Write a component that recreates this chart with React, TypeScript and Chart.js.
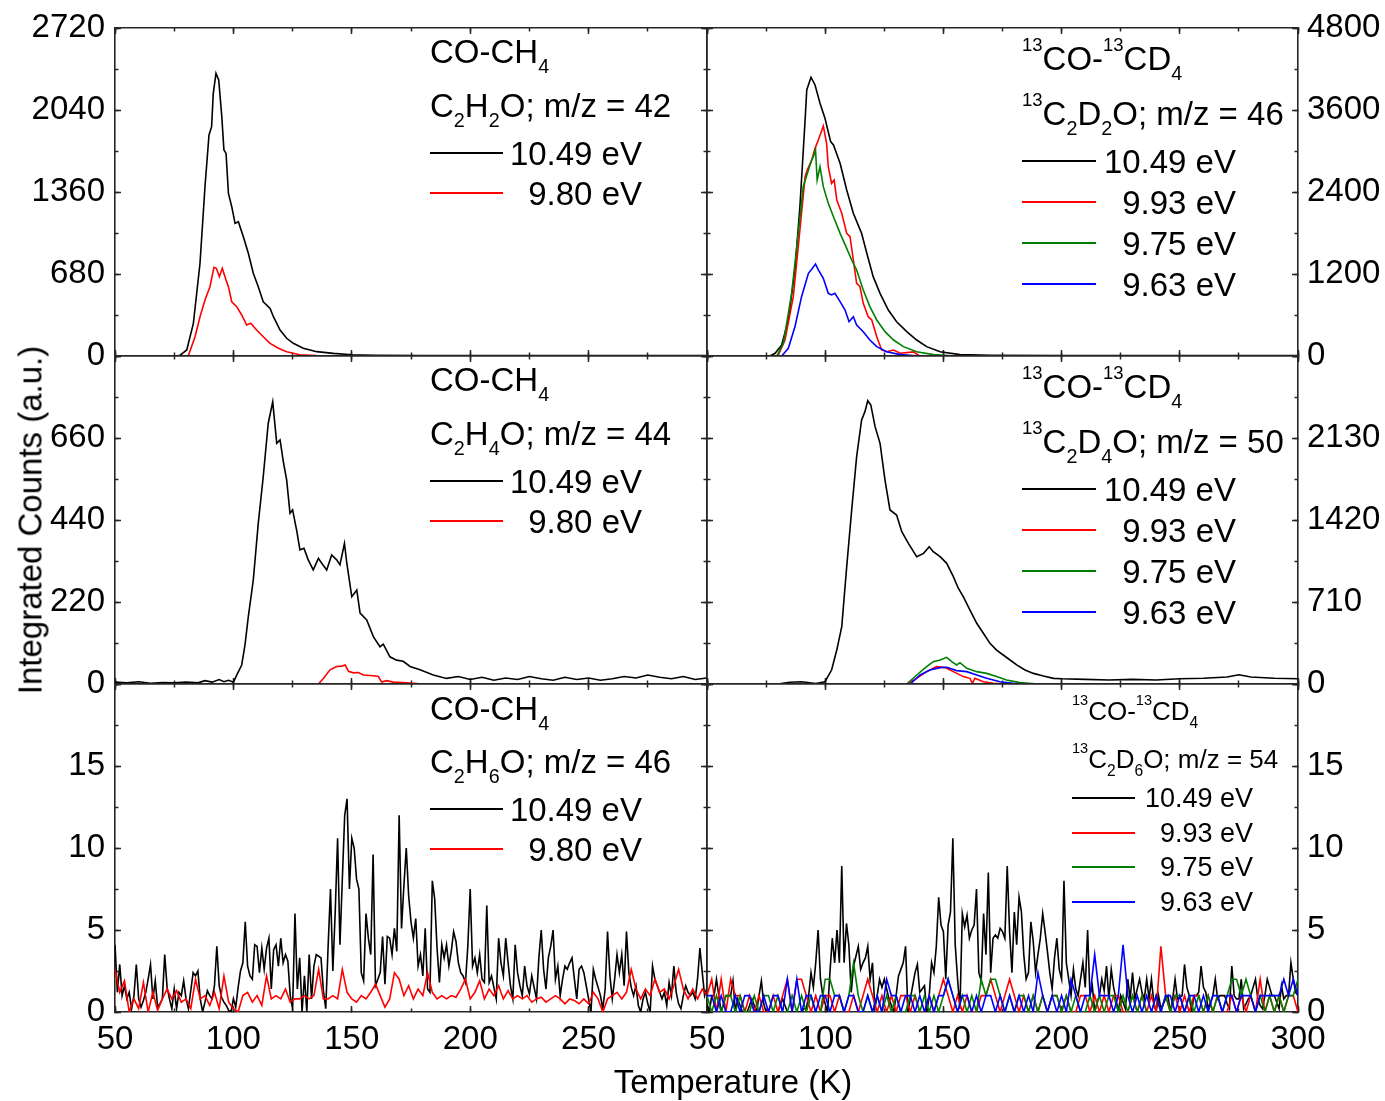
import React, { useEffect, useRef } from 'react';
import { Chart, registerables } from 'chart.js';

Chart.register(...registerables);

const FONT = 'Arial, "Liberation Sans", Helvetica, sans-serif';
const W = 1385;
const H = 1101;
const LINE = '#262626';
const BLACK = '#000000';
const RED = '#ff0000';
const GREEN = '#008000';
const BLUE = '#0000ff';

// ---------- tick definitions ----------
const X_MIN = 50;
const X_MAX = 300;
const X_MAJOR = 50;
const X_MINOR = 25;

// ---------- temperature sampling grids of the noisy (bottom) panels ----------
const T_GRID_1K = Array.from({ length: 251 }, (_, i) => 50 + i);
const T_GRID_2K = Array.from({ length: 126 }, (_, i) => 50 + 2 * i);

// ---------- top-left: CO-CH4, C2H2O m/z 42 ----------
const TL_T_BLACK = [50, 60, 70, 76, 77.4, 80.3, 83.1, 85.9, 88, 89.7, 90.8, 91.5, 92.65, 93.8, 95.1, 96, 96.9, 97.9, 99.3, 100.7, 102.1, 104.2, 106.3, 108.4, 110.5, 112.6, 115.5, 116.9, 119.7, 122.5, 125.3, 129.5, 135.2, 142.2, 150, 160, 180, 200, 250, 300];
const TL_V_BLACK = [0, 0, 0, 0, 5, 50, 271, 769, 1404, 1833, 1902, 2178, 2344, 2289, 1985, 1708, 1680, 1349, 1238, 1100, 1114, 989, 852, 686, 575, 450, 395, 326, 215, 147, 105, 64, 36, 22, 10, 6, 4, 3, 3, 3];
const TL_T_RED = [50, 80, 81, 83.8, 85.9, 88, 90.1, 91.8, 92.8, 94.1, 95.3, 96.9, 97.9, 99.3, 101.4, 103.5, 105.6, 107.3, 109.8, 112.6, 115.5, 119, 122.5, 128, 135, 150, 300];
const TL_V_RED = [0, 0, 5, 160, 326, 464, 575, 735, 727, 658, 727, 630, 575, 450, 409, 340, 257, 271, 215, 160, 105, 64, 36, 10, 3, 0, 0];

// ---------- top-right: 13CO-13CD4, 13C2D2O m/z 46 ----------
const TR_T_BLACK = [50, 76.6, 78.8, 81.6, 84.4, 87.2, 89.3, 91.5, 92.2, 94, 95.7, 97.8, 99.9, 102.3, 103.5, 106.3, 109.1, 111.9, 115.4, 117.6, 120.3, 123.2, 126.7, 130.2, 134.5, 138.7, 142.9, 148.6, 157, 170, 200, 300];
const TR_V_BLACK = [0, 0, 39, 161, 527, 1259, 2185, 3454, 3893, 4078, 3966, 3698, 3478, 3137, 3088, 2820, 2429, 2088, 1795, 1503, 1161, 917, 673, 502, 356, 234, 137, 63, 20, 10, 5, 5];
const TR_T_RED = [50, 80, 83, 86.5, 89.3, 91.5, 92.4, 94.3, 95.7, 97.1, 99.2, 100.6, 101.3, 102.7, 103.8, 104.9, 107, 109.1, 110.5, 111.9, 113.3, 114.7, 116.1, 118.2, 119.7, 121.8, 123.9, 126, 128.9, 131.7, 137.3, 140, 300];
const TR_V_RED = [0, 0, 234, 868, 1844, 2624, 2722, 2868, 3039, 3161, 3366, 3112, 2770, 2527, 2576, 2283, 2088, 1795, 1746, 1405, 1064, 1015, 771, 575, 527, 283, 88, 63, 88, 40, 60, 0, 0];
const TR_T_GREEN = [50, 79.5, 82.3, 85.8, 88.6, 90.7, 92.9, 94.3, 95, 95.9, 96.6, 97.8, 99.2, 101.3, 103.5, 106.3, 109.1, 111.2, 113.3, 116.1, 118.9, 121.8, 125.3, 128.9, 133.1, 138.7, 145.8, 155, 300];
const TR_V_GREEN = [0, 0, 186, 917, 1795, 2478, 2722, 2868, 2917, 3015, 2576, 2770, 2478, 2234, 2039, 1795, 1576, 1405, 1259, 966, 722, 527, 356, 234, 137, 63, 20, 0, 0];
const TR_T_BLUE = [50, 81.6, 84.4, 87.2, 90, 92.9, 94.6, 95.9, 97.1, 99.2, 101.3, 102.7, 104.1, 106.3, 108.4, 110.1, 111.9, 113.3, 116.1, 118.9, 121.8, 126, 131.7, 140, 300];
const TR_V_BLUE = [0, 0, 112, 429, 868, 1210, 1283, 1346, 1259, 1137, 917, 893, 917, 795, 673, 502, 575, 454, 356, 234, 137, 63, 20, 0, 0];

// ---------- middle-left: CO-CH4, C2H4O m/z 44 ----------
const ML_T_BLACK = [50, 55, 60, 65, 70, 75, 80, 85, 88, 91, 94, 96, 98, 100, 101.4, 103.5, 104.9, 106.3, 108.4, 110.5, 112.6, 114.7, 116.6, 118.3, 119.7, 121.1, 122.5, 123.9, 125, 126.7, 128.1, 129.8, 131.6, 133.7, 135.9, 137.3, 139.4, 141.5, 143.6, 145, 146.9, 147.9, 150, 152.1, 153.5, 156.3, 159.1, 161.9, 163.3, 166.1, 168.9, 171.7, 174.6, 178.8, 184.4, 190, 195, 200, 205, 210, 215, 220, 225, 230, 235, 240, 245, 250, 255, 260, 265, 270, 275, 280, 285, 290, 295, 300];
const ML_V_BLACK = [5, 3, 6, 2, 4, 3, 5, 3, 9, 5, 12, 6, 10, 5, 24, 51, 105, 181, 279, 431, 556, 699, 757, 646, 655, 596, 547, 458, 467, 413, 360, 364, 333, 306, 337, 324, 306, 346, 333, 320, 377, 324, 234, 252, 190, 172, 127, 100, 107, 73, 64, 61, 47, 38, 24, 15, 20, 12, 18, 10, 16, 12, 20, 14, 10, 18, 12, 16, 10, 14, 20, 16, 24, 18, 14, 20, 12, 16];
const ML_T_RED = [50, 135.9, 138, 140.8, 143.6, 145.8, 147.2, 148.6, 150.7, 152.8, 154.9, 159.1, 161.2, 162.6, 164.7, 167.5, 173.2, 180, 300];
const ML_V_RED = [0, 0, 15, 38, 47, 48, 51, 34, 30, 31, 24, 22, 20, 5, 9, 5, 3, 0, 0];

// ---------- middle-right: 13CO-13CD4, 13C2D4O m/z 50 ----------
const MR_T_BLACK = [50, 80, 85, 90, 96, 99.9, 102.7, 104.9, 107, 109.1, 111.2, 113.3, 115.4, 116.8, 118, 119.3, 121.1, 123.2, 125.3, 127.4, 130.2, 132.4, 135.2, 138.7, 141.6, 144, 145.7, 148.6, 151.4, 154.2, 156.3, 158.4, 161.2, 164.1, 166.9, 169.7, 172.5, 175.3, 178.2, 181, 184.5, 188.1, 192.3, 196.6, 200, 210, 220, 230, 240, 250, 260, 270, 275, 280, 290, 300];
const MR_V_BLACK = [0, 0, 15, 20, 5, 20, 121, 294, 496, 1016, 1507, 1968, 2286, 2358, 2453, 2416, 2228, 2084, 1766, 1507, 1463, 1319, 1218, 1102, 1131, 1189, 1146, 1102, 1045, 929, 829, 756, 641, 526, 439, 352, 294, 251, 208, 165, 121, 92, 69, 49, 45, 40, 35, 40, 35, 45, 50, 60, 80, 60, 50, 45];
const MR_T_RED = [50, 134.5, 138.7, 142.9, 147.1, 150.7, 154.2, 158.4, 161.2, 162.3, 163.3, 166.9, 171.1, 178, 300];
const MR_V_RED = [0, 0, 49, 107, 150, 142, 107, 64, 49, 6, 49, 20, 6, 0, 0];
const MR_T_GREEN = [50, 134.5, 138.7, 142.9, 145.7, 148.6, 151.4, 153.5, 155.6, 157, 159.9, 164.1, 168.3, 172.5, 176.7, 182.4, 190, 300];
const MR_V_GREEN = [0, 0, 78, 150, 193, 208, 231, 193, 165, 185, 136, 107, 92, 64, 35, 12, 0, 0];
const MR_T_BLUE = [50, 136, 140.1, 144.3, 148.6, 151.4, 155.6, 159.9, 164.1, 168.3, 173.9, 179.5, 186, 300];
const MR_V_BLUE = [0, 0, 78, 121, 142, 145, 116, 107, 78, 49, 20, 6, 0, 0];

// ---------- bottom-left: CO-CH4, C2H6O m/z 46 (1 K and 2 K grids) ----------
const BL_V_BLACK = [
  4.1, 1.2, 2.9, 1.0, 1.6, 0.8, 1.2, 0.2, 1.0, 2.9,
  0.8, 0.3, 0.7, 1.2, 2.0, 2.9, 0.8, 1.9, 0.3, 0.5,
  0.8, 3.5, 1.5, 0.8, 0.2, 1.4, 0.2, 1.2, 1.0, 1.9,
  0.8, 0.2, 1.3, 2.4, 2.2, 2.5, 0.8, 0, 0.6, 1.3,
  1.0, 0.8, 1.6, 4.0, 1.6, 0.9, 0.6, 0.4, 0.1, 0,
  0.8, 0.3, 1.5, 2.5, 3.0, 5.5, 2.8, 2.2, 2.0, 4.1,
  4.0, 2.4, 3.9, 2.6, 3.9, 4.5, 1.4, 3.8, 4.1, 2.8,
  4.5, 3.0, 3.5, 3.1, 1.0, 0.2, 6.0, 1.4, 3.3, 0,
  2.2, 0, 3.5, 0.8, 2.8, 3.5, 3.4, 3.3, 1.3, 0.2,
  4.0, 7.5, 2.5, 6.1, 10.6, 4.1, 8.1, 12.0, 13.0, 7.5,
  10.6, 10.0, 8.1, 7.5, 2.4, 1.9, 6.0, 4.5, 3.5, 9.6,
  1.6, 2.0, 2.4, 4.6, 1.7, 4.6, 4.5, 3.5, 5.1, 3.7,
  12.0, 5.1, 7.7, 10.0, 7.1, 5.5, 4.5, 5.7, 2.8, 3.5,
  2.2, 5.1, 1.4, 1.2, 8.0, 6.9, 3.9, 1.8, 4.1, 3.3,
  4.1, 2.8, 3.7, 4.9, 4.3, 3.0, 2.4, 2.2, 1.8, 4.0,
  7.5, 2.8, 3.3, 2.4, 3.5, 2.0, 1.8, 6.5, 1.8, 2.2,
  1.5, 0.8, 4.5, 3.0, 2.2, 4.5, 3.0, 1.6, 0.8, 4.1,
  2.4, 1.6, 1.0, 2.8, 1.6, 1.1, 2.2, 1.5, 0.8, 3.3,
  5.0, 2.6, 1.4, 3.3, 4.0, 5.0, 2.0, 2.8, 1.0, 2.0,
  2.8, 2.6, 3.0, 3.3, 2.0, 0.8, 2.6, 2.8, 2.4, 1.6,
  0.8, 0, 2.6, 2.0, 1.5, 1.0, 0.2, 1.4, 4.9, 2.2,
  0.8, 2.0, 3.5, 2.4, 3.5, 1.6, 4.9, 2.4, 1.5, 1.0,
  1.6, 0.4, 0, 0.8, 1.2, 0.5, 0, 2.8, 2.0, 1.6,
  1.2, 0.8, 1.2, 0.4, 1.8, 1.0, 2.8, 1.2, 0.5, 0.2,
  1.0, 1.6, 1.2, 1.0, 1.2, 0.8, 2.0, 3.9, 2.4, 1.0,
  1.5,
];
const BL_V_RED = [
  2.6, 1.2, 1.9, 0, 0.8, 0.2, 1.8, 0, 1.2, 0.1,
  0.8, 1.4, 0.8, 1.3, 0.6, 0.8, 0.2, 2.0, 0.8, 1.0,
  0.4, 1.2, 0.2, 2.2, 0.6, 0.2, 0, 1.0, 1.2, 0.6,
  1.0, 0.4, 2.2, 0.8, 1.0, 0.8, 1.4, 0.6, 0.8, 0.8,
  1.0, 0.8, 1.0, 2.6, 0.8, 0.8, 1.0, 0.8, 2.6, 1.2,
  0.8, 0.6, 1.0, 0.8, 1.2, 1.7, 1.0, 0.3, 0.8, 2.4,
  2.0, 1.0, 1.6, 0.8, 1.4, 1.0, 2.4, 1.2, 0.8, 1.0,
  0.8, 1.0, 0.9, 1.4, 2.0, 0.8, 1.2, 1.9, 0.8, 1.4,
  1.0, 1.6, 0.8, 1.3, 0.8, 1.0, 0.8, 1.0, 0.6, 0.8,
  0.9, 0.6, 0.8, 1.0, 0.8, 0.5, 0.8, 0.7, 0.5, 0.8,
  0.5, 1.2, 0.8, 0, 0.8, 1.0, 1.2, 0.8, 1.2, 2.6,
  1.4, 0.8, 1.4, 1.0, 2.0, 1.2, 1.4, 0.8, 1.6, 2.6,
  1.4, 0.8, 1.4, 0.8, 1.4, 1.0,
];

// ---------- bottom-right: 13CO-13CD4, 13C2D6O m/z 54 ----------
const BR_V_BLACK = [
  0.5, 0, 1.0, 1.0, 2.0, 1.0, 0, 0.5, 1.0, 1.0,
  1.0, 1.9, 0, 0.8, 0.4, 0, 0, 0, 0.4, 0.8,
  0.4, 0, 1.0, 1.9, 0.5, 0, 0, 0, 0, 0,
  0, 0.4, 0.8, 0.4, 0, 0, 0, 0, 0, 0,
  0, 0.2, 0.2, 1.0, 2.4, 1.5, 3.0, 5.0, 2.0, 1.0,
  0.5, 0, 2.4, 4.5, 3.0, 5.0, 3.0, 8.9, 3.0, 5.4,
  4.1, 1.2, 2.8, 3.4, 4.0, 2.6, 3.0, 3.3, 4.0, 2.0,
  3.0, 0.2, 1.0, 2.0, 1.5, 2.0, 1.4, 0.8, 0.4, 0,
  1.0, 2.2, 2.6, 3.0, 4.0, 0, 0.8, 1.6, 2.4, 2.9,
  1.2, 1.4, 1.6, 0, 1.0, 3.0, 2.4, 4.0, 7.0, 5.3,
  4.9, 2.0, 5.3, 6.1, 10.6, 4.1, 2.0, 0.2, 6.0, 5.2,
  5.9, 4.5, 5.0, 5.3, 7.5, 2.4, 1.9, 6.0, 3.5, 8.5,
  2.4, 4.5, 4.7, 4.5, 5.1, 4.9, 4.5, 8.9, 4.9, 2.4,
  6.1, 4.1, 7.0, 6.1, 3.5, 2.0, 2.4, 5.5, 4.3, 2.4,
  3.5, 4.5, 6.0, 4.9, 3.7, 2.4, 1.4, 3.3, 4.5, 2.6,
  2.0, 8.0, 3.0, 2.0, 1.0, 2.6, 1.4, 1.0, 2.0, 3.0,
  1.5, 5.0, 1.0, 1.6, 0, 0.6, 1.0, 2.0, 1.3, 2.8,
  0.8, 2.6, 1.5, 0.8, 0, 1.0, 0.6, 0.2, 2.0, 0.8,
  2.4, 0.8, 1.4, 2.0, 1.2, 0.8, 2.0, 0.8, 2.0, 0.6,
  0, 1.0, 0.2, 0.5, 0.8, 1.0, 0, 0.8, 2.0, 0.8,
  0.9, 1.0, 2.9, 1.5, 1.0, 0, 1.0, 1.0, 1.2, 2.8,
  1.5, 1.2, 0.2, 0.6, 1.0, 2.0, 0.8, 1.0, 1.0, 1.0,
  0.5, 0.2, 2.8, 1.0, 0.8, 0.8, 2.0, 0.2, 0.5, 0.8,
  1.0, 1.5, 2.0, 0.8, 0.4, 0.2, 1.0, 2.0, 1.5, 1.0,
  1.0, 0.6, 0.2, 1.6, 0.8, 1.0, 1.0, 3.0, 2.0, 1.2,
  1.0,
];
const BR_V_RED = [
  1, 2, 0, 2, 0, 2, 1, 1, 0, 1,
  0, 1, 0, 0, 1, 0, 1, 2, 0, 2,
  2, 1, 0, 1, 0, 1, 1, 0, 1, 0,
  0, 1, 0, 1, 2, 1, 0, 1, 0, 1,
  0, 1, 1, 0, 1, 0, 0, 1, 0, 1,
  2, 1, 0, 1, 0, 1, 0, 0, 1, 1,
  2, 1, 0, 1, 2, 1, 0, 1, 0, 1,
  0, 1, 0, 1, 1, 0, 1, 0, 0, 1,
  1, 0, 1, 0, 1, 0, 1, 1, 0, 0,
  1, 0, 1, 0, 1, 0, 4, 1, 0, 1,
  0, 1, 0, 1, 1, 0, 1, 0, 1, 0,
  0, 1, 0, 1, 0, 1, 0, 2, 0, 1,
  0, 1, 0, 1, 1, 0,
];
const BR_V_GREEN = [
  1, 0, 1, 0, 1, 1, 0, 1, 0, 0,
  1, 0, 1, 1, 0, 1, 0, 0, 1, 0,
  1, 0, 1, 0, 0, 2, 2, 1, 1, 0,
  1, 3, 1, 0, 1, 0, 1, 0, 1, 0,
  1, 0, 0, 1, 1, 0, 1, 0, 1, 0,
  1, 2, 1, 0, 1, 0, 1, 0, 2, 1,
  2, 2, 1, 0, 1, 0, 1, 1, 0, 1,
  0, 1, 0, 1, 1, 0, 1, 0, 1, 0,
  0, 1, 0, 1, 0, 1, 1, 0, 1, 0,
  1, 0, 1, 0, 0, 1, 0, 1, 0, 1,
  1, 0, 1, 0, 1, 0, 1, 0, 1, 0,
  1, 2, 2, 1, 2, 1, 0, 1, 0, 1,
  0, 1, 0, 1, 1, 2,
];
const BR_V_BLUE = [
  1, 1, 0, 1, 0, 0, 1, 0, 1, 1,
  0, 0, 1, 0, 1, 1, 0, 2, 0, 2,
  0, 1, 1, 0, 1, 1, 0, 1, 1, 0,
  1, 1, 0, 0, 1, 0, 1, 0, 2, 1,
  1, 0, 1, 1, 0, 1, 0, 1, 0, 1,
  1, 2, 1, 0, 1, 1, 0, 1, 0, 1,
  1, 0, 1, 0, 1, 0, 1, 0, 1, 0,
  2.4, 1, 0, 1, 0, 1, 0, 2, 1, 0,
  1, 1, 3.5, 1, 1, 1, 0, 1, 4.1, 1,
  0, 1, 0, 1, 0, 1, 0, 1, 1, 0,
  1, 0, 1, 1, 0, 1, 0, 1, 1, 0,
  1, 1, 0, 1, 1, 1, 0, 1, 1, 1,
  1, 1, 2, 1, 2, 1,
];

// ---------- legend labels ----------
const LEFT_LABELS = ['10.49 eV', '9.80 eV'];
const RIGHT_LABELS = ['10.49 eV', '9.93 eV', '9.75 eV', '9.63 eV'];

// ---------- layout ----------
const COLS = [{ left: 115, right: 707 }, { left: 707, right: 1298 }];
const ROWS = [{ top: 28, bottom: 356 }, { top: 356, bottom: 684 }, { top: 684, bottom: 1012 }];

type Seg = [string, number]; // 0 normal, 1 subscript, 2 superscript
type Series = { label: string; color: string; t: number[]; v: number[] };
type Panel = {
  row: number; col: number; yMax: number; yStep: number; yMinor: number; showTop: boolean;
  series: Series[];
  title1: Seg[]; title2: Seg[]; tx: number; ty1: number; ty2: number; tsize: number;
  lx1: number; lx2: number; lr: number; ly: number[]; lsize: number;
};

const PANELS: Panel[] = [
  {
    row: 0, col: 0, yMax: 2720, yStep: 680, yMinor: 340, showTop: true,
    series: [
      { label: LEFT_LABELS[0], color: BLACK, t: TL_T_BLACK, v: TL_V_BLACK },
      { label: LEFT_LABELS[1], color: RED, t: TL_T_RED, v: TL_V_RED },
    ],
    title1: [['CO-CH', 0], ['4', 1]],
    title2: [['C', 0], ['2', 1], ['H', 0], ['2', 1], ['O; m/z = 42', 0]],
    tx: 430, ty1: 51, ty2: 105, tsize: 33, lx1: 430, lx2: 503, lr: 642, ly: [153, 193], lsize: 33,
  },
  {
    row: 0, col: 1, yMax: 4800, yStep: 1200, yMinor: 600, showTop: true,
    series: [
      { label: RIGHT_LABELS[0], color: BLACK, t: TR_T_BLACK, v: TR_V_BLACK },
      { label: RIGHT_LABELS[1], color: RED, t: TR_T_RED, v: TR_V_RED },
      { label: RIGHT_LABELS[2], color: GREEN, t: TR_T_GREEN, v: TR_V_GREEN },
      { label: RIGHT_LABELS[3], color: BLUE, t: TR_T_BLUE, v: TR_V_BLUE },
    ],
    title1: [['13', 2], ['CO-', 0], ['13', 2], ['CD', 0], ['4', 1]],
    title2: [['13', 2], ['C', 0], ['2', 1], ['D', 0], ['2', 1], ['O; m/z = 46', 0]],
    tx: 1022, ty1: 58, ty2: 113, tsize: 33, lx1: 1022, lx2: 1096, lr: 1236, ly: [161, 202, 243, 284], lsize: 33,
  },
  {
    row: 1, col: 0, yMax: 880, yStep: 220, yMinor: 110, showTop: false,
    series: [
      { label: LEFT_LABELS[0], color: BLACK, t: ML_T_BLACK, v: ML_V_BLACK },
      { label: LEFT_LABELS[1], color: RED, t: ML_T_RED, v: ML_V_RED },
    ],
    title1: [['CO-CH', 0], ['4', 1]],
    title2: [['C', 0], ['2', 1], ['H', 0], ['4', 1], ['O; m/z = 44', 0]],
    tx: 430, ty1: 379, ty2: 433, tsize: 33, lx1: 430, lx2: 503, lr: 642, ly: [481, 521], lsize: 33,
  },
  {
    row: 1, col: 1, yMax: 2840, yStep: 710, yMinor: 355, showTop: false,
    series: [
      { label: RIGHT_LABELS[0], color: BLACK, t: MR_T_BLACK, v: MR_V_BLACK },
      { label: RIGHT_LABELS[1], color: RED, t: MR_T_RED, v: MR_V_RED },
      { label: RIGHT_LABELS[2], color: GREEN, t: MR_T_GREEN, v: MR_V_GREEN },
      { label: RIGHT_LABELS[3], color: BLUE, t: MR_T_BLUE, v: MR_V_BLUE },
    ],
    title1: [['13', 2], ['CO-', 0], ['13', 2], ['CD', 0], ['4', 1]],
    title2: [['13', 2], ['C', 0], ['2', 1], ['D', 0], ['4', 1], ['O; m/z = 50', 0]],
    tx: 1022, ty1: 386, ty2: 441, tsize: 33, lx1: 1022, lx2: 1096, lr: 1236, ly: [489, 530, 571, 612], lsize: 33,
  },
  {
    row: 2, col: 0, yMax: 20, yStep: 5, yMinor: 2.5, showTop: false,
    series: [
      { label: LEFT_LABELS[0], color: BLACK, t: T_GRID_1K, v: BL_V_BLACK },
      { label: LEFT_LABELS[1], color: RED, t: T_GRID_2K, v: BL_V_RED },
    ],
    title1: [['CO-CH', 0], ['4', 1]],
    title2: [['C', 0], ['2', 1], ['H', 0], ['6', 1], ['O; m/z = 46', 0]],
    tx: 430, ty1: 708, ty2: 761, tsize: 33, lx1: 430, lx2: 503, lr: 642, ly: [809, 849], lsize: 33,
  },
  {
    row: 2, col: 1, yMax: 20, yStep: 5, yMinor: 2.5, showTop: false,
    series: [
      { label: RIGHT_LABELS[0], color: BLACK, t: T_GRID_1K, v: BR_V_BLACK },
      { label: RIGHT_LABELS[1], color: RED, t: T_GRID_2K, v: BR_V_RED },
      { label: RIGHT_LABELS[2], color: GREEN, t: T_GRID_2K, v: BR_V_GREEN },
      { label: RIGHT_LABELS[3], color: BLUE, t: T_GRID_2K, v: BR_V_BLUE },
    ],
    title1: [['13', 2], ['CO-', 0], ['13', 2], ['CD', 0], ['4', 1]],
    title2: [['13', 2], ['C', 0], ['2', 1], ['D', 0], ['6', 1], ['O; m/z = 54', 0]],
    tx: 1072, ty1: 711, ty2: 759, tsize: 26, lx1: 1072, lx2: 1135, lr: 1253, ly: [798, 833, 867, 902], lsize: 27,
  },
];

function geom(p: Panel) {
  const col = COLS[p.col];
  const row = ROWS[p.row];
  const left = p.col === 0 ? 0 : 680;
  const w = p.col === 0 ? 740 : W - 680;
  const top = row.top - 20;
  const isBottom = p.row === 2;
  const h = row.bottom - top + (isBottom ? 70 : 20);
  return {
    left, top, w, h,
    leftAxisW: p.col === 0 ? col.left - left : 0,
    rightAxisW: p.col === 1 ? left + w - col.right : 0,
    bottomAxisH: isBottom ? 70 : 0,
    padding: {
      left: p.col === 0 ? 0 : col.left - left,
      right: p.col === 0 ? left + w - col.right : 0,
      top: 20,
      bottom: isBottom ? 0 : 20,
    },
  };
}

function buildScales(p: Panel, g: ReturnType<typeof geom>) {
  const isBottom = p.row === 2;
  const tickFont = { family: FONT, size: 33 };
  const hideY = p.showTop ? [] : [p.yMax];
  const hideX = p.col === 0 ? [X_MAX] : [];
  const axis = (o: any) => ({
    type: 'linear',
    position: o.pos,
    min: o.min,
    max: o.max,
    weight: o.weight,
    ticks: {
      display: o.labels,
      stepSize: o.step,
      autoSkip: false,
      maxRotation: 0,
      minRotation: 0,
      maxTicksLimit: 1000,
      padding: o.pad || 0,
      font: o.labels ? tickFont : { family: FONT, size: 8 },
      color: '#000',
      callback: (v: any) => ((o.hide || []).some((hv: number) => Math.abs(hv - v) < 1e-6) ? '' : String(v)),
    },
    grid: {
      display: true,
      drawOnChartArea: false,
      drawTicks: true,
      tickLength: -o.len,
      tickWidth: 1.5,
      tickColor: LINE,
    },
    border: { display: o.border, color: LINE, width: 1.6 },
    afterFit: (s: any) => {
      if (o.pos === 'top' || o.pos === 'bottom') s.height = o.size;
      else s.width = o.size;
      s.paddingLeft = 0;
      s.paddingRight = 0;
      s.paddingTop = 0;
      s.paddingBottom = 0;
    },
  });
  return {
    x: axis({ pos: 'bottom', min: X_MIN, max: X_MAX, step: X_MAJOR, len: 6, labels: isBottom, size: g.bottomAxisH, weight: 1, border: true, pad: 14, hide: hideX }),
    xm: axis({ pos: 'bottom', min: X_MIN, max: X_MAX, step: X_MINOR, len: 3.5, labels: false, size: 0, weight: 0, border: false }),
    xt: axis({ pos: 'top', min: X_MIN, max: X_MAX, step: X_MAJOR, len: 6, labels: false, size: 0, weight: 1, border: true }),
    xtm: axis({ pos: 'top', min: X_MIN, max: X_MAX, step: X_MINOR, len: 3.5, labels: false, size: 0, weight: 0, border: false }),
    y: axis({ pos: 'left', min: 0, max: p.yMax, step: p.yStep, len: 6, labels: p.col === 0, size: g.leftAxisW, weight: 1, border: true, pad: 16, hide: hideY }),
    ym: axis({ pos: 'left', min: 0, max: p.yMax, step: p.yMinor, len: 3.5, labels: false, size: 0, weight: 0, border: false }),
    yr: axis({ pos: 'right', min: 0, max: p.yMax, step: p.yStep, len: 6, labels: p.col === 1, size: g.rightAxisW, weight: 1, border: true, pad: 15, hide: hideY }),
    yrm: axis({ pos: 'right', min: 0, max: p.yMax, step: p.yMinor, len: 3.5, labels: false, size: 0, weight: 0, border: false }),
  };
}

function ChartPanel({ p }: { p: Panel }) {
  const ref = useRef<HTMLCanvasElement | null>(null);
  const g = geom(p);
  useEffect(() => {
    const canvas = ref.current;
    if (!canvas) return;
    const n = p.series.length;
    const chart = new Chart(canvas, {
      type: 'line',
      data: {
        datasets: p.series.map((s, i) => ({
          label: s.label,
          data: s.t.map((x, j) => ({ x, y: s.v[j] })),
          borderColor: s.color,
          backgroundColor: s.color,
          borderWidth: 1.6,
          pointRadius: 0,
          tension: 0,
          fill: false,
          order: n - i,
          xAxisID: 'x',
          yAxisID: 'y',
        })),
      },
      options: {
        responsive: false,
        animation: false,
        events: [],
        layout: { padding: g.padding },
        plugins: { legend: { display: false }, tooltip: { enabled: false }, title: { display: false } },
        scales: buildScales(p, g) as any,
      },
    } as any);
    return () => chart.destroy();
  }, []);
  return (
    <canvas
      ref={ref}
      width={g.w}
      height={g.h}
      style={{ position: 'absolute', left: g.left, top: g.top, width: g.w, height: g.h }}
    />
  );
}

function Rich({ segs, left, right, cy, size }: { segs: Seg[]; left?: number; right?: number; cy: number; size: number }) {
  const style: React.CSSProperties = {
    position: 'absolute',
    top: cy - 0.49 * size,
    fontFamily: FONT,
    fontSize: size,
    lineHeight: `${size}px`,
    whiteSpace: 'nowrap',
    color: '#000',
  };
  if (right !== undefined) style.right = W - right;
  else style.left = left;
  return (
    <div style={style}>
      {segs.map(([t, k], i) =>
        k === 1 ? (
          <span key={i} style={{ fontSize: size * 0.6, position: 'relative', top: size * 0.3, lineHeight: 0 }}>{t}</span>
        ) : k === 2 ? (
          <span key={i} style={{ fontSize: size * 0.56, position: 'relative', top: -size * 0.58, lineHeight: 0 }}>{t}</span>
        ) : (
          <span key={i}>{t}</span>
        )
      )}
    </div>
  );
}

function Annotations({ p }: { p: Panel }) {
  return (
    <>
      <Rich segs={p.title1} left={p.tx} cy={p.ty1} size={p.tsize} />
      <Rich segs={p.title2} left={p.tx} cy={p.ty2} size={p.tsize} />
      {p.series.map((s, i) => (
        <React.Fragment key={i}>
          <div style={{ position: 'absolute', left: p.lx1, top: p.ly[i] - 1, width: p.lx2 - p.lx1, height: 2, background: s.color }} />
          <Rich segs={[[s.label, 0]]} right={p.lr} cy={p.ly[i]} size={p.lsize} />
        </React.Fragment>
      ))}
    </>
  );
}

export default function App() {
  return (
    <div style={{ position: 'absolute', left: 0, top: 0, width: W, height: H, background: '#fff', overflow: 'hidden' }}>
      {PANELS.map((p, i) => (
        <ChartPanel key={i} p={p} />
      ))}
      {PANELS.map((p, i) => (
        <Annotations key={'a' + i} p={p} />
      ))}
      <div
        style={{
          position: 'absolute', left: 30, top: 520, fontFamily: FONT, fontSize: 33, lineHeight: '33px',
          whiteSpace: 'nowrap', transform: 'translate(-50%, -50%) rotate(-90deg)', color: '#000',
        }}
      >
        Integrated Counts (a.u.)
      </div>
      <div
        style={{
          position: 'absolute', left: 733, top: 1081 - 0.49 * 33, fontFamily: FONT, fontSize: 33, lineHeight: '33px',
          whiteSpace: 'nowrap', transform: 'translateX(-50%)', color: '#000',
        }}
      >
        Temperature (K)
      </div>
    </div>
  );
}
